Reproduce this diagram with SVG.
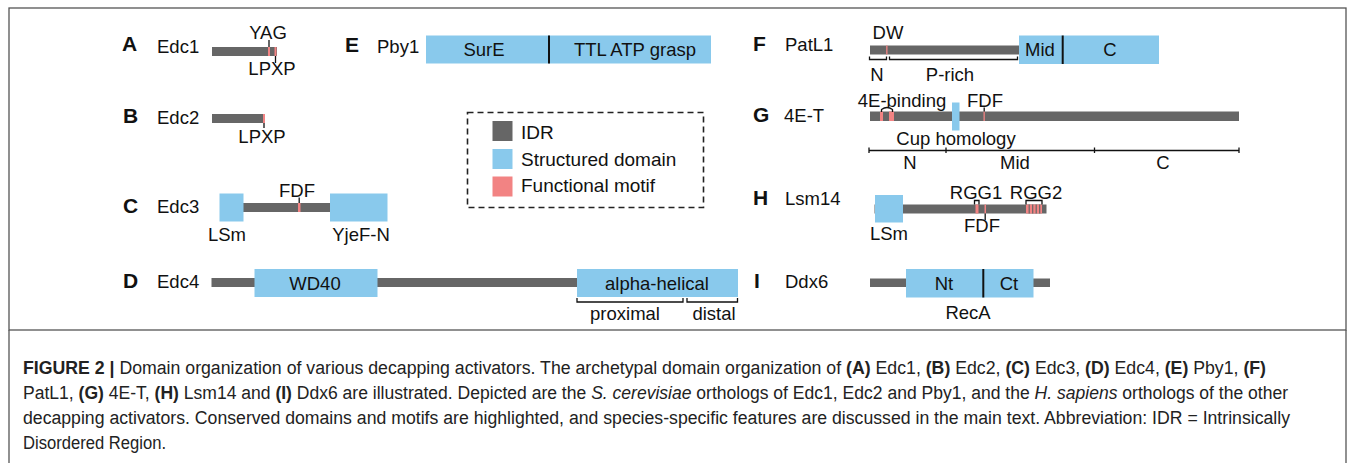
<svg xmlns="http://www.w3.org/2000/svg" width="1355" height="463" viewBox="0 0 1355 463">
<style>
.idr{fill:#666666}
.sd{fill:#89c9ec}
.fm{fill:#f28383}
.t{font-family:"Liberation Sans",Arial,sans-serif;font-size:18.5px;fill:#111}
.pl{font-family:"Liberation Sans",Arial,sans-serif;font-weight:bold;font-size:21px;fill:#111}
.m{text-anchor:middle}
.tk{stroke:#111;stroke-width:1.3;fill:none}
.dv{stroke:#111;stroke-width:2}
.lg{font-family:"Liberation Sans",Arial,sans-serif;font-size:19px;fill:#111}
.cap{font-family:"Liberation Sans Narrow","Liberation Sans",Arial,sans-serif;font-size:18px;fill:#222}
.b{font-weight:bold}
.i{font-style:italic}
</style>
<rect width="1355" height="463" fill="#ffffff"/>
<g id="frame" fill="none" stroke="#555" stroke-width="1.3">
<rect x="9" y="8" width="1337" height="322"/>
<line x1="9" y1="330" x2="9" y2="463"/>
<line x1="1346" y1="330" x2="1346" y2="463"/>
</g>

<g id="nodeA">
<text class="pl" x="122" y="51">A</text>
<text class="t" x="157" y="53">Edc1</text>
<rect class="idr" x="212" y="47" width="65" height="9"/>
<rect class="fm" x="268" y="47" width="2" height="9"/>
<rect class="fm" x="274.5" y="47" width="2" height="9"/>
<text class="t m" x="268" y="39">YAG</text>
<text class="t m" x="272" y="75">LPXP</text>
</g>

<g id="nodeB">
<text class="pl" x="123" y="123">B</text>
<text class="t" x="157" y="124">Edc2</text>
<rect class="idr" x="212" y="114" width="53" height="9"/>
<rect class="fm" x="263" y="114" width="2" height="9"/>
<text class="t m" x="262" y="143">LPXP</text>
</g>

<g id="nodeC">
<text class="pl" x="123" y="213">C</text>
<text class="t" x="157" y="213">Edc3</text>
<rect class="idr" x="243" y="203" width="87" height="9"/>
<rect class="sd" x="219.5" y="193.5" width="24" height="28"/>
<rect class="sd" x="330" y="193.5" width="57.5" height="28"/>
<rect class="fm" x="298" y="203" width="2.5" height="9"/>
<text class="t m" x="297" y="196.5">FDF</text>
<text class="t m" x="227" y="241">LSm</text>
<text class="t m" x="361" y="241">YjeF-N</text>
</g>

<g id="nodeD">
<text class="pl" x="123" y="288">D</text>
<text class="t" x="157" y="288">Edc4</text>
<rect class="idr" x="211.5" y="278" width="526" height="9"/>
<rect class="sd" x="254.5" y="269" width="123" height="28"/>
<rect class="sd" x="577" y="269" width="161" height="28"/>
<text class="t m" x="315" y="290">WD40</text>
<text class="t m" x="657" y="290">alpha-helical</text>
<text class="t m" x="625" y="320">proximal</text>
<text class="t m" x="714" y="320">distal</text>
</g>

<g id="nodeE">
<text class="pl" x="345" y="52">E</text>
<text class="t" x="377" y="53">Pby1</text>
<rect class="sd" x="426" y="35.5" width="285" height="28"/>
<line class="dv" x1="549" y1="35.5" x2="549" y2="63.5"/>
<text class="t m" x="484" y="56">SurE</text>
<text class="t m" x="635" y="56">TTL ATP grasp</text>
</g>

<g id="legend">
<rect x="467.5" y="112.5" width="236" height="95" fill="none" stroke="#222" stroke-width="1.6" stroke-dasharray="6 4"/>
<rect class="idr" x="492.5" y="121" width="20" height="20"/>
<rect class="sd" x="492.5" y="149" width="20" height="20"/>
<rect class="fm" x="492.5" y="176.5" width="20" height="20"/>
<text class="lg" x="521" y="138.5">IDR</text>
<text class="lg" x="521" y="165.5">Structured domain</text>
<text class="lg" x="521" y="192">Functional motif</text>
</g>

<g id="nodeF">
<text class="pl" x="753" y="51">F</text>
<text class="t" x="785" y="51">PatL1</text>
<rect class="idr" x="870" y="45.5" width="149" height="9"/>
<rect class="fm" x="886.2" y="45.5" width="1.3" height="9"/>
<rect class="sd" x="1019" y="35.5" width="140" height="28.5"/>
<line class="dv" x1="1062.7" y1="35.5" x2="1062.7" y2="64"/>
<text class="t m" x="888" y="39">DW</text>
<text class="t m" x="877" y="81">N</text>
<text class="t m" x="950" y="81">P-rich</text>
<text class="t m" x="1040" y="56">Mid</text>
<text class="t m" x="1110" y="56">C</text>
</g>

<g id="nodeG">
<text class="pl" x="753" y="122">G</text>
<text class="t" x="784" y="122">4E-T</text>
<rect class="idr" x="870" y="111.5" width="369" height="9.5"/>
<rect class="fm" x="880" y="111.5" width="3" height="9.5"/>
<rect class="fm" x="889" y="111.5" width="5" height="9.5"/>
<rect class="fm" x="983.5" y="111.5" width="1.3" height="9.5"/>
<rect class="sd" x="952" y="102.5" width="7.5" height="28"/>
<text class="t m" x="902" y="106.5">4E-binding</text>
<text class="t m" x="985" y="106.5">FDF</text>
<text class="t m" x="956" y="145">Cup homology</text>
<text class="t m" x="910" y="169">N</text>
<text class="t m" x="1015" y="169">Mid</text>
<text class="t m" x="1163" y="169">C</text>
</g>

<g id="nodeH">
<text class="pl" x="753" y="205">H</text>
<text class="t" x="785" y="205">Lsm14</text>
<rect class="idr" x="874.5" y="204.5" width="172" height="9"/>
<rect class="sd" x="875" y="195" width="28" height="27.5"/>
<rect class="fm" x="975.5" y="204.5" width="3" height="9"/>
<rect class="fm" x="984.5" y="204.5" width="1.5" height="9"/>
<rect class="fm" x="1026" y="204.5" width="16" height="9"/>
<g class="idr">
<rect x="1028.6" y="204.5" width="1.2" height="9"/>
<rect x="1032.1" y="204.5" width="1.2" height="9"/>
<rect x="1035.6" y="204.5" width="1.2" height="9"/>
<rect x="1039.1" y="204.5" width="1.2" height="9"/>
</g>
<text class="t m" x="889" y="240">LSm</text>
<text class="t m" x="976" y="199">RGG1</text>
<text class="t m" x="1036" y="199">RGG2</text>
<text class="t m" x="982" y="232">FDF</text>
</g>

<g id="nodeI">
<text class="pl" x="754" y="288">I</text>
<text class="t" x="785" y="288">Ddx6</text>
<rect class="idr" x="870" y="278.5" width="180" height="8.5"/>
<rect class="sd" x="906" y="269" width="127.5" height="28.5"/>
<line class="dv" x1="983.3" y1="269" x2="983.3" y2="297.5"/>
<text class="t m" x="944" y="290">Nt</text>
<text class="t m" x="1009" y="290">Ct</text>
<text class="t m" x="968" y="319">RecA</text>
</g>

<g id="connectors" class="tk">
<line x1="269" y1="40" x2="269" y2="47"/>
<line x1="275.5" y1="56" x2="275.5" y2="63"/>
<line x1="264" y1="123" x2="264" y2="128"/>
<line x1="299.2" y1="197.5" x2="299.2" y2="203"/>
<path d="M577,298 V302 H683 V298 M687,298 V302 H737.5 V298"/>
<path d="M869.5,56.5 V59.5 H886.5 V56.5 M889.5,56.5 V59.5 H1017.5 V56.5"/>
<path d="M881.5,112 V109.5 Q887,105.5 892.5,109.5 V112"/>
<line x1="984.2" y1="107.5" x2="984.2" y2="111.5"/>
<path d="M869,150.5 H1239 M869,147.5 V153 M946,147.5 V153 M1094.5,147.5 V153 M1239,147.5 V153"/>
<path d="M974.5,204.5 V200.5 H979 V204.5 M1026,204.5 V200.5 H1042 V204.5"/>
<line x1="985.2" y1="213.5" x2="985.2" y2="220"/>
</g>

<g id="caption">
<text class="cap" x="23" y="374" textLength="1243" lengthAdjust="spacingAndGlyphs"><tspan class="b">FIGURE 2 |</tspan> Domain organization of various decapping activators. The archetypal domain organization of <tspan class="b">(A)</tspan> Edc1, <tspan class="b">(B)</tspan> Edc2, <tspan class="b">(C)</tspan> Edc3, <tspan class="b">(D)</tspan> Edc4, <tspan class="b">(E)</tspan> Pby1, <tspan class="b">(F)</tspan></text>
<text class="cap" x="23" y="399" textLength="1265" lengthAdjust="spacingAndGlyphs">PatL1, <tspan class="b">(G)</tspan> 4E-T, <tspan class="b">(H)</tspan> Lsm14 and <tspan class="b">(I)</tspan> Ddx6 are illustrated. Depicted are the <tspan class="i">S. cerevisiae</tspan> orthologs of Edc1, Edc2 and Pby1, and the <tspan class="i">H. sapiens</tspan> orthologs of the other</text>
<text class="cap" x="23" y="424" textLength="1267" lengthAdjust="spacingAndGlyphs">decapping activators. Conserved domains and motifs are highlighted, and species-specific features are discussed in the main text. Abbreviation: IDR = Intrinsically</text>
<text class="cap" x="23" y="449" textLength="143" lengthAdjust="spacingAndGlyphs">Disordered Region.</text>
</g>
</svg>
